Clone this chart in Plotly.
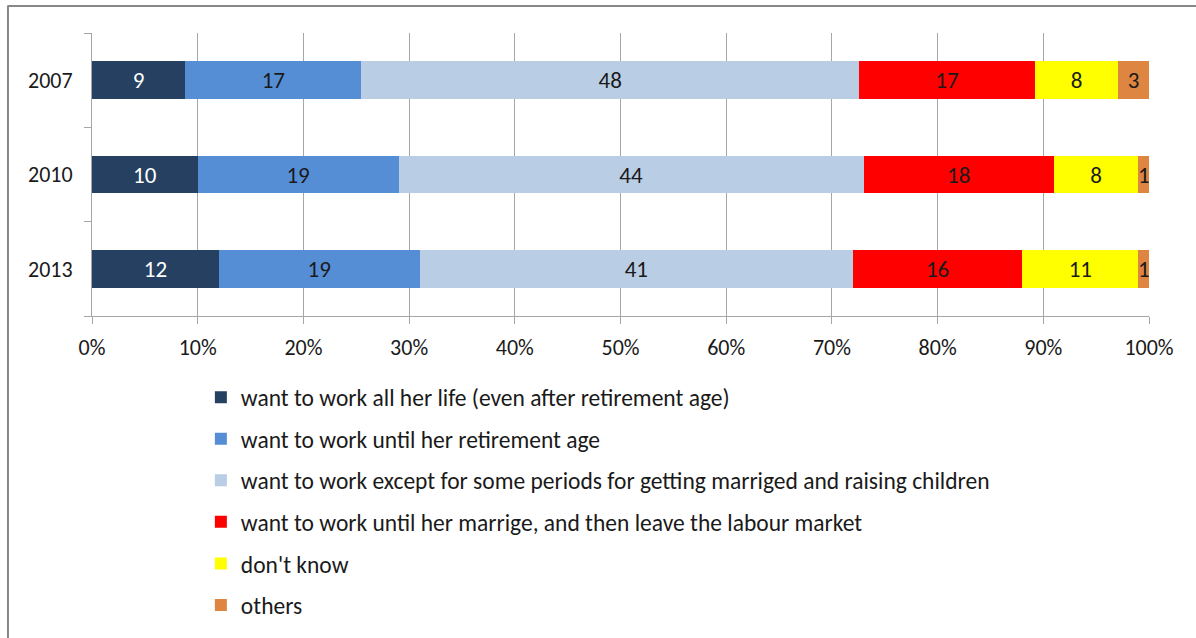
import plotly.graph_objects as go

# Survey years (top to bottom) and answer shares (%)
years = ["2007", "2010", "2013"]
categories = [
    "want to work all her life (even after retirement age)",
    "want to work until her retirement age",
    "want to work except for some periods for getting marriged and raising children",
    "want to work until her marrige, and then leave the labour market",
    "don't know",
    "others",
]
all_life = [9, 10, 12]
until_retirement = [17, 19, 19]
except_periods = [48, 44, 41]
until_marriage = [17, 18, 16]
dont_know = [8, 8, 11]
others = [3, 1, 1]

series = [all_life, until_retirement, except_periods, until_marriage, dont_know, others]
colors = ["#254061", "#558ED5", "#B9CDE5", "#FF0000", "#FFFF00", "#DE8541"]
label_colors = ["#FFFFFF", "#1a1a1a", "#1a1a1a", "#1a1a1a", "#1a1a1a", "#1a1a1a"]
x_ticks = list(range(0, 101, 10))

FONT = "Carlito, Calibri, Lato, sans-serif"

fig = go.Figure()
for name, vals, col, tcol in zip(categories, series, colors, label_colors):
    fig.add_trace(go.Bar(
        y=years, x=vals, name=name, orientation="h",
        marker=dict(color=col, line=dict(width=0)),
        text=[str(v) for v in vals],
        textposition="inside", insidetextanchor="middle",
        textfont=dict(color=tcol, size=23, family=FONT),
        legendgroup=name,
    ))

fig.update_layout(
    barmode="stack", barnorm="percent", bargap=0.6,
    width=1196, height=638,
    margin=dict(l=92, r=47, t=33, b=322, autoexpand=False),
    paper_bgcolor="white", plot_bgcolor="white",
    font=dict(family=FONT, size=22, color="#1a1a1a"),
    uniformtext=dict(minsize=23, mode="show"),
    legend=dict(
        x=0.103, y=-0.21, xanchor="left", yanchor="top",
        orientation="v", traceorder="grouped",
        tracegroupgap=8, itemwidth=30,
        font=dict(size=23.5, family=FONT, color="#1a1a1a"),
    ),
    xaxis=dict(
        range=[0, 100], tickvals=x_ticks,
        ticktext=[f"{t}%" for t in x_ticks],
        showgrid=True, gridcolor="#A6A6A6", gridwidth=1,
        showline=True, linecolor="#A6A6A6", linewidth=1,
        ticks="outside", ticklen=7, tickcolor="#A6A6A6",
        ticklabelstandoff=5,
        zeroline=False, fixedrange=True,
    ),
    yaxis=dict(
        categoryorder="array", categoryarray=years[::-1],
        showline=True, linecolor="#A6A6A6", linewidth=1,
        ticks="outside", ticklen=7, tickcolor="#A6A6A6",
        tickson="boundaries", showgrid=False, ticklabelstandoff=14,
    ),
    shapes=[
        dict(type="line", xref="paper", yref="paper",
             x0=-0.08, x1=1.05, y0=1.095, y1=1.095,
             line=dict(color="#878787", width=2)),
        dict(type="line", xref="paper", yref="paper",
             x0=-0.0795, x1=-0.0795, y0=1.095, y1=-1.2,
             line=dict(color="#878787", width=2)),
    ],
)

fig.write_html("out.html")
